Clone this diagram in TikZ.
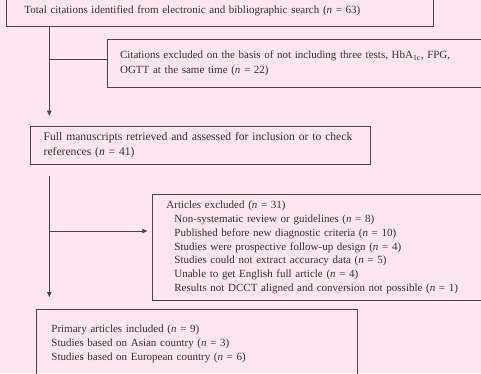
\documentclass[tikz,border=0pt]{standalone}
\usepackage{fontspec}
\setmainfont{Liberation Serif}
\usetikzlibrary{arrows.meta,calc}
\definecolor{bgpink}{HTML}{FDE6EF}
\definecolor{edge}{HTML}{4A4448}
\definecolor{ink}{HTML}{333333}
\begin{document}
\begin{tikzpicture}[x=1pt,y=-1pt,
  box/.style={draw=edge, line width=0.8pt, anchor=north west, inner xsep=0pt, inner ysep=0pt,
    align=left, text=ink, font=\fontsize{11}{14.6}\selectfont},
  conn/.style={draw=edge, line width=0.8pt},
  arr/.style={conn, -{Triangle[length=5pt,width=4.5pt]}}]
\useasboundingbox[fill=bgpink] (0,0) rectangle (481,373);
\coordinate (x1) at (49.3,0);
% boxes
\node[box, minimum width=427pt, minimum height=30.7pt, text width=409pt] (b1) at (6,-5)
  {\hspace*{9pt}Total citations identified from electronic and bibliographic search (\textit{n} = 63)};
\node[box, minimum width=390pt, minimum height=48.2pt, text width=382pt] (b2) at (107.3,38.5)
  {\hspace*{8.4pt}Citations excluded on the basis of not including three tests, HbA\textsubscript{1c}, FPG,\\
   \hspace*{8.4pt}OGTT at the same time (\textit{n} = 22)};
\node[box, minimum width=340pt, minimum height=38pt, text width=330pt, font=\fontsize{11.6}{14.7}\selectfont] (b3) at (30,126)
  {\hspace*{8.3pt}Full manuscripts retrieved and assessed for inclusion or to check\\
   \hspace*{8.3pt}references (\textit{n} = 41)};
\node[box, minimum width=345pt, minimum height=106pt, text width=335pt, font=\fontsize{11}{13.9}\selectfont] (b4) at (152.3,194)
  {\hspace*{8.7pt}Articles excluded (\textit{n} = 31)\\
   \hspace*{16.7pt}Non-systematic review or guidelines (\textit{n} = 8)\\
   \hspace*{16.7pt}Published before new diagnostic criteria (\textit{n} = 10)\\
   \hspace*{16.7pt}Studies were prospective follow-up design (\textit{n} = 4)\\
   \hspace*{16.7pt}Studies could not extract accuracy data (\textit{n} = 5)\\
   \hspace*{16.7pt}Unable to get English full article (\textit{n} = 4)\\
   \hspace*{16.7pt}Results not DCCT aligned and conversion not possible (\textit{n} = 1)};
\node[box, minimum width=321pt, minimum height=68pt, text width=311pt, font=\fontsize{11}{14}\selectfont] (b5) at (36,309)
  {\hspace*{10pt}Primary articles included (\textit{n} = 9)\\
   \hspace*{10pt}Studies based on Asian country (\textit{n} = 3)\\
   \hspace*{10pt}Studies based on European country (\textit{n} = 6)};
% connectors
\coordinate (br1) at ($(b2.north west)+(0,21)$);
\coordinate (br2) at ($(b4.north west)+(0,37)$);
\draw[arr, shorten >=10.3pt] (b1.south -| x1) -- (b3.north -| x1);
\draw[conn] (x1 |- br1) -- (br1);
\draw[arr, shorten <=11pt, shorten >=12pt] (b3.south -| x1) -- (b5.north -| x1);
\draw[arr, shorten >=5pt] (x1 |- br2) -- (br2);
\end{tikzpicture}
\end{document}
